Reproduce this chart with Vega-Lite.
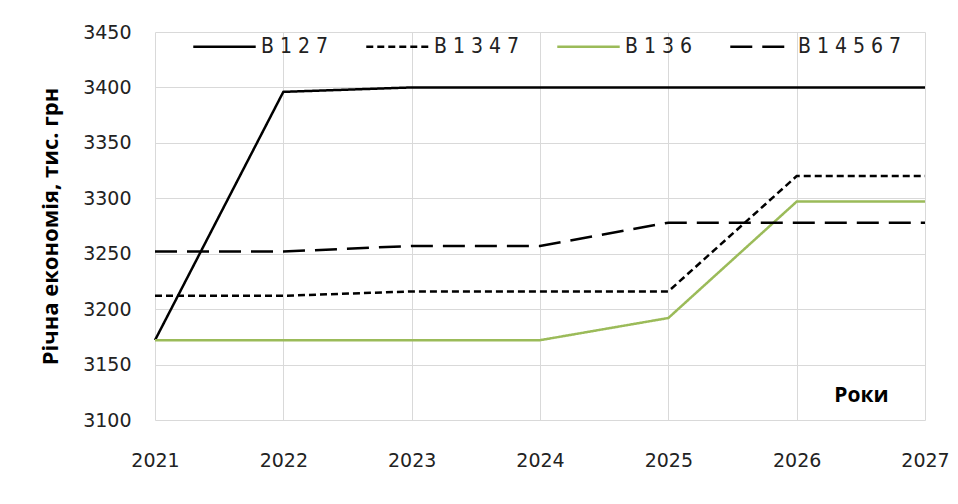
{
  "$schema": "https://vega.github.io/schema/vega-lite/v6.json",
  "width": 770,
  "height": 388,
  "autosize": {"type": "none"},
  "padding": {"left": 155, "top": 32, "right": 33, "bottom": 84},
  "background": "white",
  "config": {
    "view": {"stroke": null},
    "axis": {"gridColor": "#d9d9d9", "gridWidth": 1, "domain": false, "ticks": false}
  },
  "data": {
    "values": [
      {"year": 2021, "s": "В 1 2 7", "v": 3172},
      {"year": 2022, "s": "В 1 2 7", "v": 3396},
      {"year": 2023, "s": "В 1 2 7", "v": 3400},
      {"year": 2024, "s": "В 1 2 7", "v": 3400},
      {"year": 2025, "s": "В 1 2 7", "v": 3400},
      {"year": 2026, "s": "В 1 2 7", "v": 3400},
      {"year": 2027, "s": "В 1 2 7", "v": 3400},
      {"year": 2021, "s": "В 1 3 4 7", "v": 3212},
      {"year": 2022, "s": "В 1 3 4 7", "v": 3212},
      {"year": 2023, "s": "В 1 3 4 7", "v": 3216},
      {"year": 2024, "s": "В 1 3 4 7", "v": 3216},
      {"year": 2025, "s": "В 1 3 4 7", "v": 3216},
      {"year": 2026, "s": "В 1 3 4 7", "v": 3320},
      {"year": 2027, "s": "В 1 3 4 7", "v": 3320},
      {"year": 2021, "s": "В 1 3 6", "v": 3172},
      {"year": 2022, "s": "В 1 3 6", "v": 3172},
      {"year": 2023, "s": "В 1 3 6", "v": 3172},
      {"year": 2024, "s": "В 1 3 6", "v": 3172},
      {"year": 2025, "s": "В 1 3 6", "v": 3192},
      {"year": 2026, "s": "В 1 3 6", "v": 3297},
      {"year": 2027, "s": "В 1 3 6", "v": 3297},
      {"year": 2021, "s": "В 1 4 5 6 7", "v": 3252},
      {"year": 2022, "s": "В 1 4 5 6 7", "v": 3252},
      {"year": 2023, "s": "В 1 4 5 6 7", "v": 3257},
      {"year": 2024, "s": "В 1 4 5 6 7", "v": 3257},
      {"year": 2025, "s": "В 1 4 5 6 7", "v": 3278},
      {"year": 2026, "s": "В 1 4 5 6 7", "v": 3278},
      {"year": 2027, "s": "В 1 4 5 6 7", "v": 3278}
    ]
  },
  "mark": {"type": "line", "strokeWidth": 2.5, "interpolate": "linear"},
  "encoding": {
    "x": {
      "field": "year", "type": "quantitative",
      "scale": {"domain": [2021, 2027], "nice": false, "zero": false},
      "axis": {
        "values": [2021, 2022, 2023, 2024, 2025, 2026, 2027],
        "format": "d",
        "labelFont": "DejaVu Sans", "labelFontSize": 19, "labelColor": "#222",
        "labelPadding": 31, "labelFlush": false,
        "title": "Роки", "titleFont": "Open Sans", "titleFontSize": 21, "titleFontWeight": "bold",
        "titleColor": "black", "titleX": 706, "titleY": -25, "titleBaseline": "middle"
      }
    },
    "y": {
      "field": "v", "type": "quantitative",
      "scale": {"domain": [3100, 3450], "nice": false, "zero": false},
      "axis": {
        "values": [3100, 3150, 3200, 3250, 3300, 3350, 3400, 3450],
        "format": "d",
        "labelFont": "DejaVu Sans", "labelFontSize": 19, "labelColor": "#222",
        "labelPadding": 24,
        "title": "Річна економія, тис. грн", "titleFont": "Open Sans", "titleFontSize": 22,
        "titleFontWeight": "bold", "titleColor": "black", "titlePadding": 20
      }
    },
    "color": {
      "field": "s", "type": "nominal",
      "scale": {"domain": ["В 1 2 7", "В 1 3 4 7", "В 1 3 6", "В 1 4 5 6 7"], "range": ["#000000", "#000000", "#9BBB59", "#000000"]},
      "legend": {
        "title": null, "orient": "none", "direction": "horizontal",
        "legendX": 37, "legendY": -18,
        "symbolType": "stroke", "symbolSize": 3900, "symbolStrokeWidth": 2.5,
        "labelFont": "DejaVu Sans Condensed, Liberation Sans, sans-serif", "labelFontSize": 21, "labelColor": "#222",
        "labelOffset": 4, "columnPadding": 32
      }
    },
    "strokeDash": {
      "field": "s", "type": "nominal",
      "scale": {"domain": ["В 1 2 7", "В 1 3 4 7", "В 1 3 6", "В 1 4 5 6 7"], "range": [[1, 0], [7, 4], [1, 0], [22, 10]]},
      "legend": null
    }
  }
}
